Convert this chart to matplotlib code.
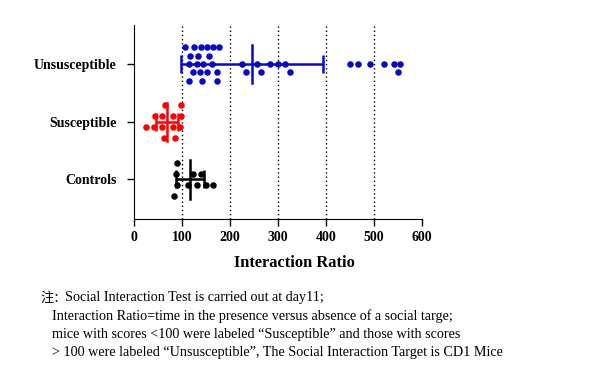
import numpy as np
import matplotlib
matplotlib.use('Agg')
from matplotlib import pyplot as plt

# Groups, bottom to top
groups = ['Controls', 'Susceptible', 'Unsusceptible']
colors = ['black', '#ff0000', '#0808c8']

# Interaction ratio of each mouse, with the swarm row it sits in
controls = [89.6, 87.5, 122, 138, 90, 112.5, 130.5, 150, 164.6, 82.7]
controls_rows = [1.5, 0.5, 0.5, 0.5, -0.5, -0.5, -0.5, -0.5, -0.5, -1.5]

susceptible = [64.6, 98, 44, 57.6, 81, 98, 25, 41, 57.6, 81, 96, 62.5, 85]
susceptible_rows = [1.5, 1.5, 0.5, 0.5, 0.5, 0.5, -0.5, -0.5, -0.5, -0.5, -0.5, -1.5, -1.5]

unsusceptible = [105.5, 125, 138, 151, 163.5, 176,
                 116, 133, 155,
                 114, 130.5, 144, 161, 224, 256, 283, 299, 315, 450, 467, 492, 520, 542, 555,
                 123, 137.5, 152, 172, 232, 264, 324, 550,
                 114, 141.5, 172]
unsusceptible_rows = [2] * 6 + [1] * 3 + [0] * 15 + [-1] * 8 + [-2] * 3

values = [controls, susceptible, unsusceptible]
rows = [controls_rows, susceptible_rows, unsusceptible_rows]
row_step = [0.19, 0.19, 0.145]

x_ticks = [0, 100, 200, 300, 400, 500, 600]

fig = plt.figure(figsize=(5.97, 3.83), dpi=100)
ax = fig.add_axes([0.225, 0.429, 0.482, 0.506])

serif_bold = dict(family='Liberation Serif', weight='bold')

for i in range(3):
    v = np.array(values[i])
    y = i + np.array(rows[i]) * row_step[i]
    ax.scatter(v, y, s=22, color=colors[i], zorder=3, linewidths=0)
    m = v.mean()
    sd = v.std(ddof=1)
    # mean line and SD bar
    ax.plot([m, m], [i - 0.33, i + 0.33], color=colors[i], lw=1.8, zorder=4)
    ax.errorbar(m, i, xerr=sd, color=colors[i], lw=1.8, capsize=6.5,
                capthick=1.8, zorder=4)

for t in x_ticks[1:-1]:
    ax.axvline(t, color='black', ls=(0, (1, 2)), lw=1, zorder=1)

ax.set_xlim(0, 600)
ax.set_ylim(-0.68, 2.68)
ax.set_xticks(x_ticks)
ax.set_xticklabels([str(t) for t in x_ticks], **serif_bold, fontsize=10)
ax.set_yticks(range(3))
ax.set_yticklabels(groups, **serif_bold, fontsize=10)
ax.tick_params(axis='both', length=5, width=1)
ax.tick_params(axis='x', pad=4)
ax.tick_params(axis='y', pad=8)
ax.spines['top'].set_visible(False)
ax.spines['right'].set_visible(False)

fig.text(294 / 597, 1 - 263 / 383, 'Interaction Ratio', ha='center', va='center',
         fontsize=11.8, **serif_bold)

note_font = ['Liberation Serif', 'Noto Sans CJK SC']
fig.text(40 / 597, 1 - 298 / 383, '注：', family=note_font, fontsize=9.5, va='center')
fig.text(65 / 597, 1 - 298 / 383, 'Social Interaction Test is carried out at day11;',
         family=note_font, fontsize=10.2, va='center')
note_lines = [
    'Interaction Ratio=time in the presence versus absence of a social targe;',
    'mice with scores <100 were labeled \u201cSusceptible\u201d and those with scores',
    '> 100 were labeled \u201cUnsusceptible\u201d, The Social Interaction Target is CD1 Mice',
]
for k, line in enumerate(note_lines):
    fig.text(52 / 597, 1 - (316.5 + 17.8 * k) / 383, line, family=note_font,
             fontsize=10.2, va='center')

fig.savefig('out.png', dpi=100)
